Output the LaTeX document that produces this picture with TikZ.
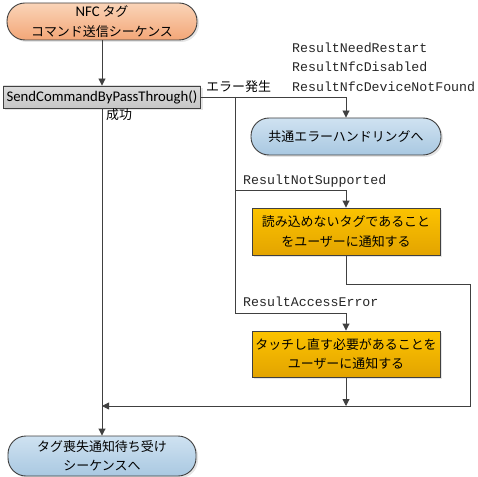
\documentclass[tikz,border=0pt]{standalone}
\usepackage{fontspec}
\newfontfamily\jp{Noto Sans CJK JP}
\newfontfamily\lat{Carlito}
\newfontfamily\mono{Liberation Mono}
\usetikzlibrary{arrows.meta,shadows}
\definecolor{lineC}{HTML}{404040}
\definecolor{peachT}{HTML}{FAD4B8}
\definecolor{peachB}{HTML}{F3A677}
\definecolor{blueT}{HTML}{CFE2F1}
\definecolor{blueB}{HTML}{A9C8E1}
\definecolor{orT}{HTML}{FCC300}
\definecolor{orB}{HTML}{E3A400}
\definecolor{grT}{HTML}{DCDCDC}
\definecolor{grB}{HTML}{C6C6C6}
\tikzset{
  base/.style={draw=lineC, line width=0.9bp, inner sep=0pt, align=center, font=\jp\fontsize{13}{19.5}\selectfont,
    drop shadow={shadow xshift=2bp, shadow yshift=-2bp, opacity=.25, fill=black!40}},
  term/.style={base, rounded corners=18bp, minimum width=190bp, minimum height=37bp},
  peach/.style={term, top color=peachT, bottom color=peachB},
  blue/.style={term, top color=blueT, bottom color=blueB},
  proc/.style={base, minimum width=188bp, minimum height=47bp, top color=orT, bottom color=orB},
  cmdbox/.style={base, minimum width=197bp, minimum height=22bp, top color=grT, bottom color=grB},
  conn/.style={draw=lineC, line width=0.9bp},
  arr/.style={conn, -{Triangle[width=7bp,length=7bp]}},
  code/.style={font=\mono\fontsize{13.3}{15}\selectfont, anchor=west, inner sep=0pt, text=black!85},
  lbl/.style={font=\jp\fontsize{13}{15}\selectfont, anchor=west, inner sep=0pt},
}
\begin{document}
\begin{tikzpicture}[x=1bp,y=-1bp]
\useasboundingbox (0,0) rectangle (477,477);
\node[peach] (top) at (102,21.5) {{\lat\fontsize{14.8}{16}\selectfont NFC} タグ\\コマンド送信シーケンス};
\node[cmdbox] (cmd) at (102,97) {\lat\fontsize{14.8}{16}\selectfont SendCommandByPassThrough()};
\node[blue] (common) at (346,136.5) {共通エラーハンドリングへ};
\node[proc] (box1) at (346,231.5) {読み込めないタグであること\\をユーザーに通知する};
\node[proc, minimum height=46bp] (box2) at (346,354) {タッチし直す必要があることを\\ユーザーに通知する};
\node[blue, minimum width=188bp, minimum height=40bp] (final) at (102,456) {タグ喪失通知待ち受け\\シーケンスへ};

\coordinate (b1) at (235,97);
\coordinate (j1) at (235,190);
\coordinate (j2) at (235,313);
\coordinate (c1) at (470,284);
\coordinate (m) at (102,406);

\draw[arr] (top) -- (cmd);
\draw[arr] (cmd.south) -- (final.north);
\draw[arr] (cmd.east) -| (common.north);
\draw[conn] (b1) -- (j2);
\draw[arr] (j1) -| (box1.north);
\draw[arr] (j2) -| (box2.north);
\draw[arr] (box1.south) |- (c1) |- (m);
\draw[arr] (box2.south) -- (box2.south |- m);

\node[lbl] (ok) at (106,115) {成功};
\node[lbl] (err) at (206,87) {エラー発生};
\node[code] (c_a) at (292,48) {ResultNeedRestart};
\node[code] (c_b) at (292,67) {ResultNfcDisabled};
\node[code] (c_c) at (292,87) {ResultNfcDeviceNotFound};
\node[code] (c_d) at (243,181) {ResultNotSupported};
\node[code] (c_e) at (243,302) {ResultAccessError};
\end{tikzpicture}
\end{document}
